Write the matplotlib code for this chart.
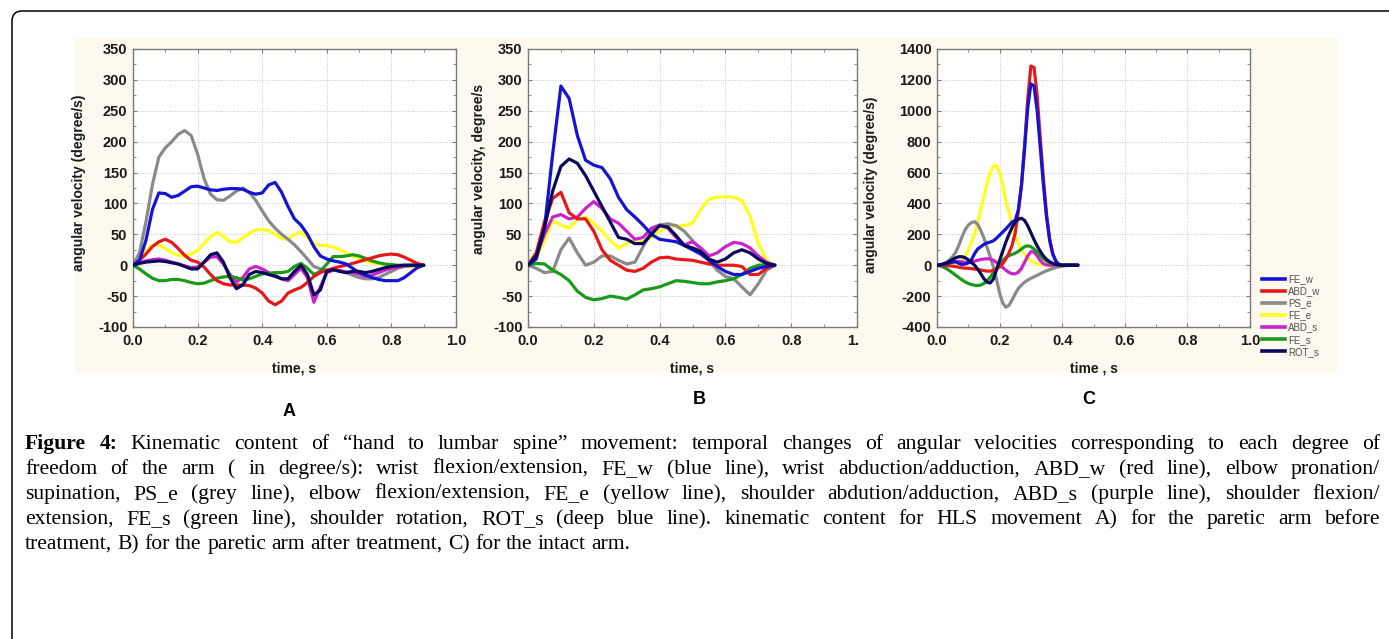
import numpy as np
import matplotlib
matplotlib.use("Agg")
import matplotlib.pyplot as plt
from matplotlib.patches import FancyBboxPatch, Rectangle
from matplotlib.lines import Line2D
from matplotlib.ticker import MultipleLocator, FormatStrFormatter
from matplotlib.transforms import Bbox

plt.rcParams["axes.unicode_minus"] = False

# ---------------- data ----------------
series_names = ["FE_w", "ABD_w", "PS_e", "FE_e", "ABD_s", "FE_s", "ROT_s"]

# Panel A: paretic arm before treatment (t step 0.02 s)
tA = np.round(np.arange(0, 0.901, 0.02), 3)
A_FE_w = [0, 8, 40, 90, 117, 116, 110, 113, 120, 127, 128, 125, 122, 121, 123, 124, 124, 123, 118, 115,
          117, 130, 134, 118, 95, 75, 65, 50, 30, 15, 10, 7, 5, 2, -5, -12, -16, -20, -23, -25,
          -25, -25, -20, -12, -4, 0]
A_ABD_w = [0, 8, 18, 30, 38, 42, 37, 27, 16, 8, 5, -3, -15, -25, -30, -32, -32, -32, -33, -37,
           -45, -58, -64, -58, -45, -40, -36, -28, -18, -12, -8, -5, -2, 0, 3, 6, 9, 12, 15, 17,
           18, 17, 13, 8, 3, 0]
A_PS_e = [0, 20, 70, 130, 175, 190, 200, 212, 218, 210, 180, 140, 115, 106, 105, 112, 120, 125, 118, 105,
          88, 72, 60, 50, 42, 33, 22, 10, -2, -6, -8, -8, -9, -12, -16, -20, -22, -22, -20, -15,
          -10, -5, -2, -1, 0, 0]
A_FE_e = [0, 12, 24, 32, 33, 27, 20, 16, 15, 18, 24, 35, 46, 53, 47, 38, 37, 44, 52, 57,
          58, 56, 50, 43, 42, 50, 53, 45, 35, 32, 32, 29, 25, 20, 15, 11, 7, 4, 2, 1,
          0, -1, -2, -2, -1, 0]
A_ABD_s = [0, 4, 7, 9, 10, 8, 5, 2, -1, -4, -3, 5, 13, 14, 2, -15, -27, -20, -6, -2,
           -6, -12, -16, -22, -25, -15, -5, -20, -60, -35, -12, -8, -9, -11, -12, -14, -18, -16, -12, -8,
           -5, -3, -1, 0, 0, 0]
A_FE_s = [0, -6, -14, -21, -25, -25, -23, -23, -25, -28, -30, -29, -25, -21, -19, -18, -20, -24, -22, -18,
          -14, -13, -12, -12, -10, -2, 3, -5, -15, -10, 2, 14, 14, 15, 17, 15, 11, 7, 4, 2,
          1, 0, 0, 0, 0, 0]
A_ROT_s = [0, 3, 5, 6, 7, 6, 4, 2, -2, -6, -6, 5, 17, 20, 5, -20, -38, -32, -15, -10,
           -12, -15, -18, -22, -22, -10, 0, -15, -48, -40, -10, -7, -10, -12, -10, -10, -12, -10, -7, -4,
           -2, -1, 0, 0, 0, 0]

# Panel B: paretic arm after treatment (t step 0.025 s)
tB = np.round(np.arange(0, 0.751, 0.025), 3)
B_FE_w = [0, 10, 60, 180, 290, 270, 210, 170, 162, 158, 140, 110, 90, 78, 65, 50,
          42, 40, 38, 32, 25, 18, 8, -2, -10, -15, -15, -10, -5, -2, 0]
B_ABD_w = [0, 20, 70, 108, 118, 85, 75, 75, 55, 25, 8, 0, -8, -10, -5, 5,
           12, 13, 10, 9, 8, 5, 2, 0, 0, 0, -2, -15, -15, -5, 0]
B_PS_e = [0, -5, -12, -10, 25, 44, 20, 0, 5, 15, 15, 8, 2, 5, 30, 55,
          65, 67, 64, 55, 40, 25, 8, -8, -18, -22, -35, -48, -30, -8, 0]
B_FE_e = [0, 10, 40, 72, 65, 60, 75, 78, 68, 55, 40, 28, 35, 42, 38, 45,
          55, 62, 64, 64, 68, 90, 107, 110, 111, 110, 105, 80, 35, 8, 0]
B_ABD_s = [0, 15, 50, 78, 82, 75, 78, 92, 103, 92, 75, 68, 55, 42, 45, 60,
           65, 60, 45, 33, 38, 28, 15, 20, 30, 37, 35, 28, 15, 5, 0]
B_FE_s = [0, 3, 2, -8, -15, -25, -42, -52, -56, -54, -50, -52, -55, -48, -40, -38,
          -35, -30, -25, -26, -28, -30, -30, -27, -25, -22, -15, -5, 0, 1, 0]
B_ROT_s = [0, 15, 60, 120, 160, 172, 165, 145, 120, 95, 70, 45, 42, 35, 35, 50,
           64, 62, 48, 32, 28, 22, 10, 5, 10, 20, 25, 20, 10, 3, 0]

# Panel C: intact arm (t step 0.01 s)
tC = np.round(np.arange(0, 0.451, 0.01), 3)
C_FE_w = [0, 2, 5, 10, 15, 20, 22, 12, 5, 8, 15, 35, 75, 105, 120, 135, 145, 150, 158, 175,
          195, 215, 235, 258, 280, 290, 360, 520, 760, 1020, 1175, 1160, 1000, 760, 520, 310, 160, 70, 25, 5,
          0, 0, 0, 0, 0, 0]
C_ABD_w = [0, 0, -1, -2, -4, -6, -9, -13, -17, -19, -20, -22, -25, -28, -31, -35, -38, -38, -35, -25,
           -10, 10, 40, 80, 130, 210, 350, 520, 780, 1080, 1290, 1280, 1100, 820, 560, 330, 170, 75, 25, 5,
           0, 0, 0, 0, 0, 0]
C_PS_e = [0, 3, 8, 18, 35, 55, 85, 130, 185, 230, 260, 276, 282, 265, 225, 175, 115, 55, -10, -90,
          -180, -245, -272, -260, -225, -185, -150, -128, -110, -96, -85, -75, -65, -55, -45, -36, -28, -21, -15, -10,
          -6, -3, -1, 0, 0, 0]
C_FE_e = [0, 2, 4, 6, 8, 9, 10, 18, 30, 60, 100, 150, 200, 280, 360, 450, 530, 600, 640, 645,
          600, 520, 420, 340, 260, 195, 140, 100, 70, 45, 30, 18, 10, 5, 2, 0, 0, 0, 0, 0,
          0, 0, 0, 0, 0, 0]
C_ABD_s = [0, 3, 8, 13, 18, 22, 24, 25, 22, 18, 17, 20, 26, 32, 37, 40, 42, 40, 32, 18,
           2, -15, -32, -47, -55, -56, -45, -20, 20, 60, 88, 85, 60, 30, 10, 2, 0, 0, 0, 0,
           0, 0, 0, 0, 0, 0]
C_FE_s = [0, -5, -12, -22, -35, -50, -65, -80, -95, -108, -118, -125, -130, -132, -128, -118, -100, -78, -50, -22,
          5, 30, 50, 62, 70, 78, 90, 105, 120, 126, 120, 105, 85, 62, 42, 28, 17, 10, 5, 2,
          0, 0, 0, 0, 0, 0]
C_ROT_s = [0, 3, 8, 15, 25, 38, 48, 55, 55, 48, 35, 18, 0, -25, -55, -88, -110, -115, -90, -30,
           30, 90, 150, 200, 245, 280, 298, 304, 290, 255, 210, 165, 125, 90, 60, 38, 22, 12, 5, 2,
           0, 0, 0, 0, 0, 0]

panel_letters = ["A", "B", "C"]
ylabels = ["angular velocity (degree/s)", "angular velocity, degree/s", "angular velocity (degree/s)"]
xlabels = ["time, s", "time, s", "time , s"]

caption_lines = [
    "Figure 4: Kinematic content of \u201chand to lumbar spine\u201d movement: temporal changes of angular velocities corresponding to each degree of",
    "freedom of the arm ( in degree/s): wrist flexion/extension, FE_w (blue line), wrist abduction/adduction, ABD_w (red line), elbow pronation/",
    "supination, PS_e (grey line), elbow flexion/extension, FE_e (yellow line), shoulder abdution/adduction, ABD_s (purple line), shoulder flexion/",
    "extension, FE_s (green line), shoulder rotation, ROT_s (deep blue line). kinematic content for HLS movement A) for the paretic arm before",
    "treatment, B) for the paretic arm after treatment, C) for the intact arm.",
]

# ---------------- style ----------------
colors = {"FE_w": "#1414d2", "ABD_w": "#e41a1a", "PS_e": "#8a8a8a", "FE_e": "#ffff1e",
          "ABD_s": "#cc22cc", "FE_s": "#1a9a1a", "ROT_s": "#0a0a5c"}
zorders = {"FE_w": 2.6, "ABD_w": 2.5, "PS_e": 2.1, "FE_e": 2.0, "ABD_s": 2.2, "FE_s": 2.3, "ROT_s": 2.7}

W, H = 1389, 639
fig = plt.figure(figsize=(W / 100, H / 100), dpi=100)
fig.patch.set_facecolor("white")

# outer rounded frame (extends beyond right/bottom)
frame = FancyBboxPatch((0.12, -0.6), 14.5, 6.28 + 0.6,
                       boxstyle="round,pad=0,rounding_size=0.10",
                       transform=fig.dpi_scale_trans, facecolor="none",
                       edgecolor="black", linewidth=1.1, zorder=-2)
fig.patches.append(frame)

# cream background of the figure image
cream = Rectangle((0.75, (H - 373) / 100), (1337 - 75) / 100, (373 - 38) / 100,
                  transform=fig.dpi_scale_trans, facecolor="#fdf9ee", edgecolor="none", zorder=-3)
fig.patches.append(cream)

def px_axes(l, t, r, b):
    return [l / W, 1 - b / H, (r - l) / W, (b - t) / H]

boxes = [px_axes(133, 49, 456, 327), px_axes(528, 49, 857, 327), px_axes(937, 49, 1250, 327)]

data = [
    (tA, [A_FE_w, A_ABD_w, A_PS_e, A_FE_e, A_ABD_s, A_FE_s, A_ROT_s]),
    (tB, [B_FE_w, B_ABD_w, B_PS_e, B_FE_e, B_ABD_s, B_FE_s, B_ROT_s]),
    (tC, [C_FE_w, C_ABD_w, C_PS_e, C_FE_e, C_ABD_s, C_FE_s, C_ROT_s]),
]
ylims = [(-100, 350), (-100, 350), (-400, 1400)]
ysteps = [50, 50, 200]
ylab_x = [-0.145, -0.128, -0.19]
ylab_y = [0.52, 0.57, 0.51]
sans = ["Liberation Sans", "DejaVu Sans"]
lw = 2.3
tick_fs = 10.5
lab_fs = 10

axes = []
for i, (box, (t, vals)) in enumerate(zip(boxes, data)):
    ax = fig.add_axes(box)
    axes.append(ax)
    ax.set_facecolor("white")
    for name, v in zip(series_names, vals):
        ax.plot(t, v, color=colors[name], lw=lw, zorder=zorders[name],
                solid_capstyle="round", solid_joinstyle="round")
    ax.set_xlim(0, 1.0)
    ax.set_ylim(*ylims[i])
    ax.xaxis.set_major_locator(MultipleLocator(0.2))
    ax.xaxis.set_minor_locator(MultipleLocator(0.1))
    ax.yaxis.set_major_locator(MultipleLocator(ysteps[i]))
    ax.yaxis.set_minor_locator(MultipleLocator(ysteps[i] / 2))
    ax.xaxis.set_major_formatter(FormatStrFormatter("%.1f"))
    ax.grid(True, which="major", color="#c8c8c8", linestyle=(0, (1, 1.5)), linewidth=0.7, zorder=0)
    for s in ax.spines.values():
        s.set_color("#7a7a7a")
        s.set_linewidth(1.0)
    ax.tick_params(which="both", direction="in", top=True, right=True, color="#7a7a7a")
    ax.tick_params(which="major", length=3, width=0.8)
    ax.tick_params(which="minor", length=2, width=0.6)
    ax.tick_params(axis="y", pad=4)
    ax.tick_params(axis="x", pad=5)
    for lab in ax.get_xticklabels() + ax.get_yticklabels():
        lab.set_fontfamily(sans)
        lab.set_fontweight("bold")
        lab.set_fontsize(tick_fs)
        lab.set_color("#1a1a1a")
    ax.set_ylabel(ylabels[i], fontsize=lab_fs, fontweight="bold", family=sans, color="#1a1a1a")
    ax.yaxis.set_label_coords(ylab_x[i], ylab_y[i])
    ax.set_xlabel(xlabels[i], fontsize=lab_fs, fontweight="bold", family=sans, color="#1a1a1a")
    ax.xaxis.set_label_coords(0.5, -0.125)

# clip the "1.0" label of panel B (hidden behind panel C image in the original)
fig.canvas.draw()
clipbox = Bbox.from_extents(0, 0, 859, H)
for lab in axes[1].get_xticklabels():
    lab.set_clip_box(clipbox)
    lab.set_clip_on(True)

# legend
handles = [Line2D([], [], color=colors[n], lw=2.6) for n in series_names]
leg = fig.legend(handles, series_names, loc="upper left",
                 bbox_to_anchor=(1262 / W, 1 - 274 / H), frameon=False,
                 handlelength=2.4, handletextpad=0.25, labelspacing=0.22,
                 borderpad=0, borderaxespad=0, prop={"family": sans, "size": 7})
for txt in leg.get_texts():
    txt.set_color("#505050")

# panel letters
for letter, (x, y) in zip(panel_letters, [(289, 411), (699, 400), (1089, 400)]):
    fig.text(x / W, 1 - y / H, letter, ha="center", va="center", fontsize=13,
             fontweight="bold", family=sans, color="black")

# caption (justified)
serif = ["Liberation Serif", "DejaVu Serif"]
renderer = fig.canvas.get_renderer()

def measure(s, fs, weight):
    tt = fig.text(0, 0, s, fontsize=fs, family=serif, weight=weight)
    w = tt.get_window_extent(renderer).width
    tt.remove()
    return w

def tokens(line, idx):
    words = line.split(" ")
    out = []
    for k, w in enumerate(words):
        bold = (idx == 0 and k < 2)
        out.append((w, "bold" if bold else "normal"))
    return out

x_left, x_right = 25, 1380
fs = 11.0
natural = measure(caption_lines[-1], fs, "normal")
fs = fs * 605.0 / natural

baselines = [449, 474, 499, 524, 549]
space = measure("a a", fs, "normal") - measure("aa", fs, "normal")
for i, line in enumerate(caption_lines):
    toks = tokens(line, i)
    widths = [measure(w, fs, wt) for w, wt in toks]
    if i < len(caption_lines) - 1:
        gap = (x_right - x_left - sum(widths)) / (len(toks) - 1)
    else:
        gap = space
    x = x_left
    for (w, wt), wd in zip(toks, widths):
        fig.text(x / W, 1 - baselines[i] / H, w, fontsize=fs, family=serif, weight=wt,
                 ha="left", va="baseline", color="black")
        x += wd + gap

fig.savefig("out.png", dpi=100, facecolor="white")
